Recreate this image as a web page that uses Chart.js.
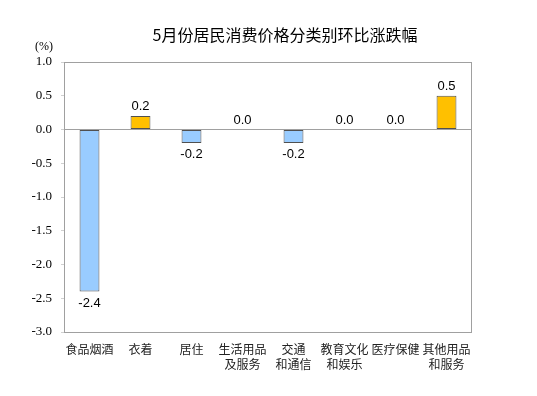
<!DOCTYPE html>
<html>
<head>
<meta charset="utf-8">
<script src="https://cdn.jsdelivr.net/npm/chart.js@4/dist/chart.umd.min.js"></script>
<style>
  html, body { margin: 0; padding: 0; background: #fff; }
  #wrap { width: 537px; height: 396px; position: relative; }
</style>
</head>
<body>
<div id="wrap"><canvas id="c"></canvas></div>
<script>
const title = "5月份居民消费价格分类别环比涨跌幅"
const categories = [["食品烟酒"], ["衣着"], ["居住"], ["生活用品", "及服务"], ["交通", "和通信"], ["教育文化", "和娱乐"], ["医疗保健"], ["其他用品", "和服务"]]
const values = [-2.4, 0.2, -0.2, 0.0, -0.2, 0.0, 0.0, 0.5]
const yTicks = [1.0, 0.5, 0.0, -0.5, -1.0, -1.5, -2.0, -2.5, -3.0]

const upColor = "#FFC000", downColor = "#99CCFF"
const serif = "'Liberation Serif', serif"

// frame, title, unit and value labels
const extras = {
    id: "extras",
    beforeDatasetsDraw(chart) {
        let c = chart.ctx, a = chart.chartArea
        c.save()
        c.strokeStyle = "#a0a0a0"
        c.lineWidth = 1
        c.strokeRect(a.left + 0.5, a.top + 0.5, a.right - a.left - 1, a.bottom - a.top)
        c.restore()
    },
    afterDatasetsDraw(chart) {
        let c = chart.ctx
        c.save()
        c.fillStyle = "#000"
        c.font = "16px 'Noto Sans CJK SC'"
        c.textAlign = "center"
        c.textBaseline = "middle"
        c.fillText(title, 285, 35)
        c.font = "12px " + serif
        c.fillText("(%)", 44, 47)
        c.font = "13px 'Liberation Sans'"
        let meta = chart.getDatasetMeta(0)
        meta.data.forEach((bar, i) => {
            let v = values[i]
            let txt = v.toFixed(1)
            if (v < 0) {
                c.textBaseline = "top"
                c.fillText(txt, bar.x, bar.y + 5)
            } else {
                c.textBaseline = "bottom"
                c.fillText(txt, bar.x, bar.y - 3)
            }
        })
        c.restore()
    }
}

new Chart(document.getElementById("c"), {
    type: "bar",
    data: {
        labels: categories,
        datasets: [{
            data: values,
            backgroundColor: values.map(v => v >= 0 ? upColor : downColor),
            borderColor: "#505050",
            borderWidth: 1,
            borderSkipped: false,
            barPercentage: 0.78,
            categoryPercentage: 0.5
        }]
    },
    options: {
        responsive: true,
        maintainAspectRatio: false,
        animation: false,
        layout: { padding: { top: 62, right: 65, left: 0, bottom: 0 } },
        plugins: { legend: { display: false }, tooltip: { enabled: false } },
        scales: {
            x: {
                grid: { display: false },
                border: { display: false },
                ticks: {
                    color: "#222",
                    font: { family: "Noto Sans CJK SC", size: 12, lineHeight: 1.25 },
                    maxRotation: 0,
                    autoSkip: false,
                    padding: 2
                },
                afterFit: s => { s.height = 64 }
            },
            y: {
                min: -3,
                max: 1,
                afterBuildTicks: s => { s.ticks = yTicks.map(v => ({ value: v })) },
                grid: {
                    drawOnChartArea: true,
                    drawTicks: true,
                    tickLength: 3,
                    color: ctx => ctx.tick && ctx.tick.value === 0 ? "#a0a0a0" : "rgba(0,0,0,0)",
                    tickColor: "#d0d0d0"
                },
                border: { display: true, color: "#a0a0a0" },
                ticks: {
                    color: "#000",
                    font: { family: serif, size: 13 },
                    padding: 9,
                    callback: v => v.toFixed(1)
                },
                afterFit: s => { s.width = 64 }
            }
        }
    },
    plugins: [extras]
})
</script>
</body>
</html>
